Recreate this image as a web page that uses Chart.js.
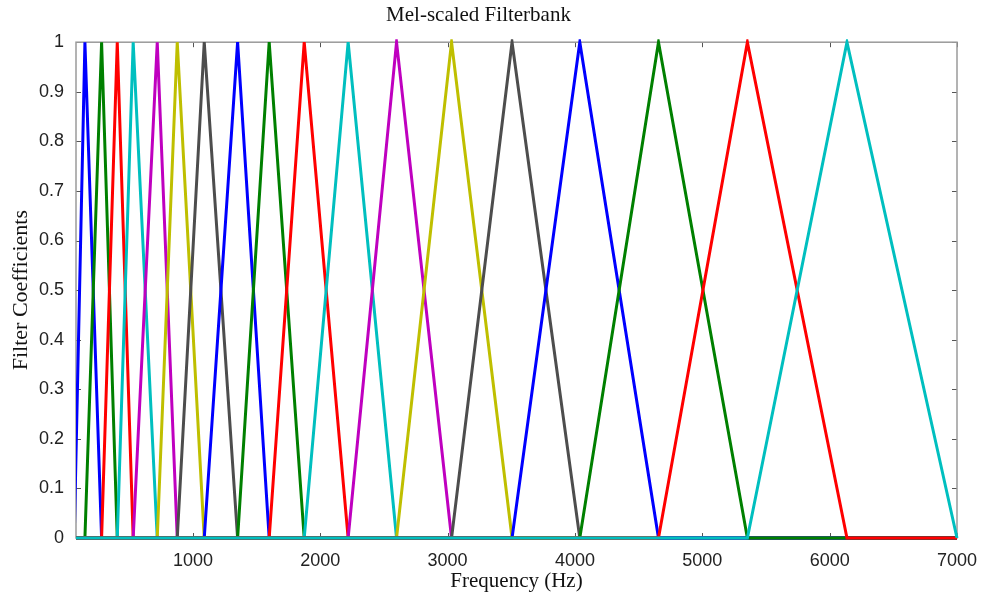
<!DOCTYPE html>
<html lang="en">
<head>
    <meta charset="UTF-8">
    <script src="https://cdn.jsdelivr.net/npm/chart.js@4.4.1/dist/chart.umd.min.js"></script>
    <title>Mel-scaled Filterbank</title>
    <style>
        html, body { margin: 0; padding: 0; background: #fff; }
        #wrap { width: 983px; height: 608px; }
    </style>
</head>
<body>
    <div id="wrap"><canvas id="myChart"></canvas></div>

    <script>
// filter peak frequencies (Hz)
const peaks = [152, 283, 406, 531, 720, 877, 1089, 1351, 1599, 1874,
               2219, 2599, 3031, 3506, 4038, 4656, 5354, 6136];
const firstEdge = 68;
const lastEdge = 7000;
const xMin = 82;
const xTicks = [1000, 2000, 3000, 4000, 5000, 6000, 7000];
const yTicks = [0, 0.1, 0.2, 0.3, 0.4, 0.5, 0.6, 0.7, 0.8, 0.9, 1];
const colors = ['#0000ff', '#008000', '#ff0000', '#00bfbf', '#bf00bf', '#bfbf00', '#4d4d4d'];

const edges = [firstEdge].concat(peaks, [lastEdge]);

const datasets = peaks.map(function(p, k) {
    return {
        label: 'filter ' + (k + 1),
        data: [
            {x: firstEdge, y: 0},
            {x: edges[k], y: 0},
            {x: edges[k + 1], y: 1},
            {x: edges[k + 2], y: 0},
            {x: lastEdge, y: 0}
        ],
        borderColor: colors[k % colors.length],
        borderWidth: 3,
        pointRadius: 0,
        tension: 0,
        fill: false,
        clip: {left: 0, top: 3, right: 3, bottom: 3},
        order: peaks.length - k   // later filters on top, like matlab
    };
});

// frame + small inward ticks, drawn under the lines
const frame = {
    id: 'frame',
    beforeDatasetsDraw(chart) {
        const ctx = chart.ctx;
        const a = chart.chartArea;
        const sx = chart.scales.x, sy = chart.scales.y;
        ctx.save();
        ctx.strokeStyle = '#555';
        ctx.lineWidth = 1;
        xTicks.forEach(function(v) {
            const px = Math.round(sx.getPixelForValue(v)) + 0.5;
            ctx.beginPath();
            ctx.moveTo(px, a.bottom); ctx.lineTo(px, a.bottom - 5);
            ctx.moveTo(px, a.top); ctx.lineTo(px, a.top + 5);
            ctx.stroke();
        });
        yTicks.forEach(function(v) {
            const py = Math.round(sy.getPixelForValue(v)) + 0.5;
            ctx.beginPath();
            ctx.moveTo(a.left, py); ctx.lineTo(a.left + 5, py);
            ctx.moveTo(a.right, py); ctx.lineTo(a.right - 5, py);
            ctx.stroke();
        });
        ctx.strokeStyle = '#9a9a9a';
        ctx.lineWidth = 1.5;
        ctx.strokeRect(a.left, a.top, a.right - a.left, a.bottom - a.top);
        ctx.restore();
    }
};

let myChart = document.getElementById('myChart').getContext('2d');

new Chart(myChart, {
    type: 'line',
    data: { datasets: datasets },
    plugins: [frame],
    options: {
        responsive: true,
        maintainAspectRatio: false,
        animation: false,
        events: [],
        layout: { padding: { left: 0, right: 26, top: 0, bottom: 0 } },
        plugins: {
            legend: { display: false },
            tooltip: { enabled: false },
            title: {
                display: true,
                text: 'Mel-scaled Filterbank',
                color: '#111',
                font: { family: 'Liberation Serif', size: 21, weight: 'normal' },
                padding: { top: 3, bottom: 14 }
            }
        },
        scales: {
            x: {
                type: 'linear',
                min: xMin,
                max: lastEdge,
                afterFit(scale) { scale.height = 70; },
                afterBuildTicks(scale) { scale.ticks = xTicks.map(v => ({value: v})); },
                grid: { display: false },
                border: { display: false },
                ticks: {
                    color: '#222',
                    padding: 4,
                    maxRotation: 0,
                    font: { family: 'Liberation Sans', size: 18 },
                    callback: v => String(v)
                },
                title: {
                    display: true,
                    text: 'Frequency (Hz)',
                    color: '#111',
                    font: { family: 'Liberation Serif', size: 21 },
                    padding: { top: 0, bottom: 14 }
                }
            },
            y: {
                min: 0,
                max: 1,
                afterFit(scale) { scale.width = 76; },
                afterBuildTicks(scale) { scale.ticks = yTicks.map(v => ({value: v})); },
                grid: { display: false },
                border: { display: false },
                ticks: {
                    color: '#222',
                    padding: 4,
                    font: { family: 'Liberation Sans', size: 18 },
                    callback: v => String(v)
                },
                title: {
                    display: true,
                    text: 'Filter Coefficients',
                    color: '#111',
                    font: { family: 'Liberation Serif', size: 22 },
                    padding: { top: 8, bottom: 0 }
                }
            }
        }
    }
});
    </script>
</body>
</html>
